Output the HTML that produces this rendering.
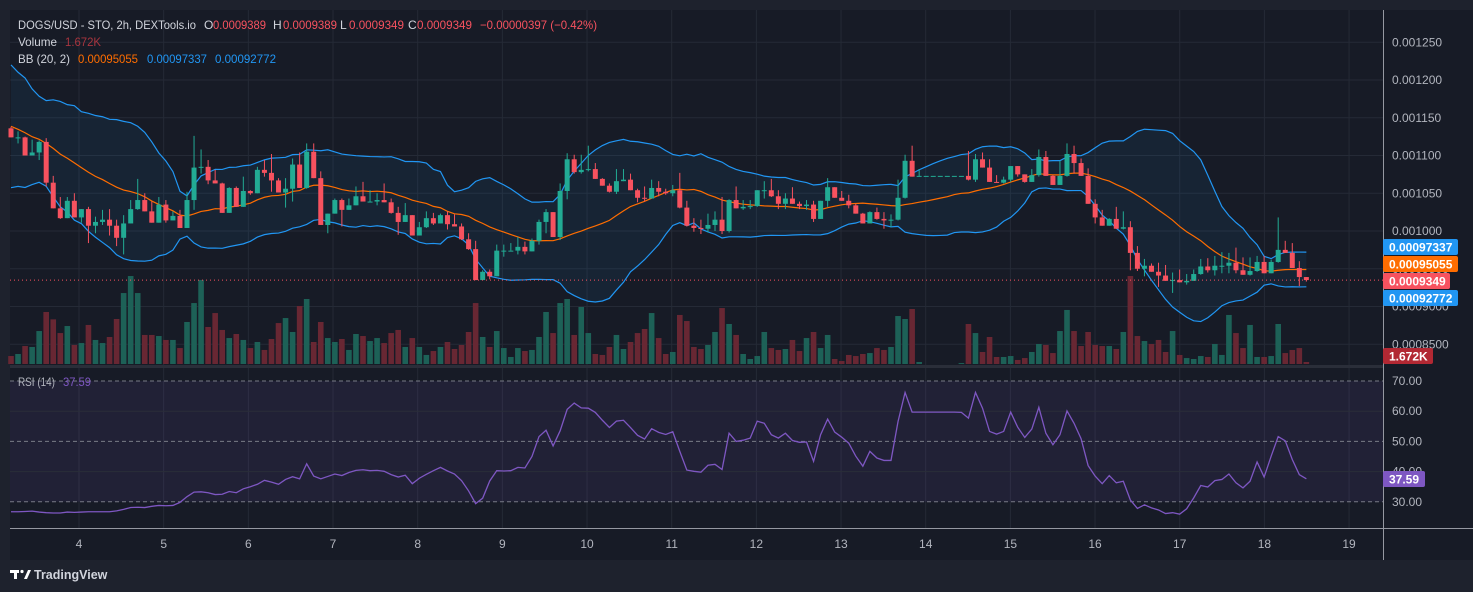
<!DOCTYPE html>
<html><head><meta charset="utf-8"><style>
html,body{margin:0;padding:0;background:#1e222d;}
svg{display:block;font-family:"Liberation Sans",sans-serif;}
</style></head><body>
<svg id="chart" width="1473" height="592" viewBox="0 0 1473 592">
<rect x="0" y="0" width="1473" height="592" fill="#1e222d"/>
<rect x="10" y="10" width="1463" height="550" fill="#171b26"/>
<g id="grid"></g>
<g id="bbfill"></g>
<g id="vol"></g>
<g id="bb"></g>
<g id="candles"></g>
<g id="rsi"></g>
<g id="axes"></g>
<g id="legend" font-size="12">
<text x="18" y="29" fill="#d1d4dc" textLength="178" lengthAdjust="spacingAndGlyphs">DOGS/USD - STO, 2h, DEXTools.io</text>
<text x="204" y="29" fill="#d1d4dc">O</text>
<text x="213" y="29" fill="#f7525f" textLength="53" lengthAdjust="spacingAndGlyphs">0.0009389</text>
<text x="273" y="29" fill="#d1d4dc">H</text>
<text x="283" y="29" fill="#f7525f" textLength="54" lengthAdjust="spacingAndGlyphs">0.0009389</text>
<text x="340" y="29" fill="#d1d4dc">L</text>
<text x="349" y="29" fill="#f7525f" textLength="55" lengthAdjust="spacingAndGlyphs">0.0009349</text>
<text x="408" y="29" fill="#d1d4dc">C</text>
<text x="417" y="29" fill="#f7525f" textLength="55" lengthAdjust="spacingAndGlyphs">0.0009349</text>
<text x="480" y="29" fill="#f7525f" textLength="117" lengthAdjust="spacingAndGlyphs">−0.00000397 (−0.42%)</text>
<text x="18" y="46" fill="#d1d4dc" textLength="39" lengthAdjust="spacingAndGlyphs">Volume</text>
<text x="65" y="46" fill="#a8353f" textLength="36" lengthAdjust="spacingAndGlyphs">1.672K</text>
<text x="18" y="63" fill="#d1d4dc" textLength="52" lengthAdjust="spacingAndGlyphs">BB (20, 2)</text>
<text x="78" y="63" fill="#ff6d00" textLength="60" lengthAdjust="spacingAndGlyphs">0.00095055</text>
<text x="147" y="63" fill="#2196f3" textLength="60" lengthAdjust="spacingAndGlyphs">0.00097337</text>
<text x="215" y="63" fill="#2196f3" textLength="61" lengthAdjust="spacingAndGlyphs">0.00092772</text>
<text x="18" y="386" fill="#b2b5be" textLength="37" lengthAdjust="spacingAndGlyphs">RSI (14)</text>
<text x="63" y="386" fill="#7e57c2" textLength="28" lengthAdjust="spacingAndGlyphs">37.59</text>
</g>
<g id="footer">
<rect x="10" y="570" width="9" height="3" fill="#fff"/>
<rect x="14" y="570" width="3" height="9" fill="#fff"/>
<circle cx="22" cy="571.5" r="1.6" fill="#fff"/>
<polygon points="24,579 28,570 31,570 27,579" fill="#fff"/>
<text x="34" y="579" font-size="12.5" font-weight="bold" fill="#d1d4dc">TradingView</text>
</g>
</svg>
<script>
const priorCloses=[1205,1190,1210,1185,1175,1160,1170,1150,1140,1155,1130,1120,1100,1110,1090,1085,1070,1095,1110];
const firstOpen=1136;
const closes=[1124,1124,1100,1104,1118,1064,1030,1017,1040,1018,
1029,1007,1012,1015,1007,991,1010,1029,1041,1026,
1011,1035,1014,1020,1004,1041,1084,1085,1067,1063,
1024,1057,1032,1053,1050,1081,1077,1067,1051,1056,
1088,1057,1105,1070,1008,1023,1041,
1028,1034,1046,1039,1039,1041,1038,1024,1012,1021,
994,1005,1017,1010,1021,1009,1006,989,976,935,
946,940,974,974,974,979,973,987,1012,1025,
992,1053,1095,1078,1081,1082,1069,1060,1052,1066,
1068,1054,1044,1043,1057,1052,1050,
1054,1031,1007,1004,1003,1008,1015,1000,1041,1030,
1032,1033,1054,1054,1046,1036,1043,1036,1033,1035,
1016,1040,1058,1044,1040,1034,1023,1010,1025,1016,
1014,1015,1044,1093,1072,1073,1073,1073,1073,1073,
1073,1073,1068,1095,1084,1065,1064,
1068,1086,1075,1065,1074,1098,1073,1061,1073,1102,
1090,1073,1036,1018,1007,1016,1003,1005,971,950,
954,946,941,934,935,932,934,943,953,948,
954,954,958,948,942,947,959,944,959,975,
971,951,939,935];
const highs=[1138,1132,1125,1121,1120,1123,1073,1045,1045,1050,
1029,1032,1019,1028,1029,1015,1021,1041,1069,1050,
1039,1045,1041,1026,1028,1052,1126,1108,1094,1081,
1064,1058,1059,1072,1054,1085,1094,1102,1070,1070,
1096,1104,1116,1116,1079,1023,1043,
1043,1043,1059,1065,1054,1050,1063,1043,1032,1037,
1021,1012,1026,1024,1023,1026,1022,1010,997,987,
948,949,982,982,984,992,986,990,1015,1029,
1025,1063,1103,1101,1101,1113,1090,1070,1063,1082,
1082,1076,1056,1059,1068,1066,1056,
1061,1077,1040,1017,1015,1023,1026,1045,1042,1059,
1041,1041,1054,1066,1069,1054,1050,1058,1039,1041,
1040,1040,1070,1058,1053,1048,1036,1024,1026,1031,
1025,1022,1068,1101,1113,1082,1073,1073,1073,1073,
1073,1073,1106,1102,1104,1095,1074,
1072,1086,1086,1074,1082,1108,1106,1074,1093,1116,
1113,1096,1083,1042,1028,1017,1032,1026,1013,980,
963,957,958,955,945,949,943,949,963,964,
967,972,971,978,965,965,967,967,962,1018,
987,984,960,939];
const lows=[1124,1116,1100,1100,1094,1059,1030,1016,1018,1018,
1011,984,997,1008,994,980,969,1010,1028,1026,
1011,1011,1011,1015,1004,1004,1028,1076,1062,1063,
1024,1024,1032,1032,1048,1050,1072,1052,1051,1031,
1039,1057,1056,1070,1008,997,1023,
1006,1028,1034,1039,1038,1034,1038,1023,995,1012,
994,994,1004,1008,1010,1002,1006,988,975,935,
935,936,940,966,974,969,969,973,982,997,
992,988,1042,1076,1076,1079,1069,1060,1051,1049,
1066,1054,1038,1039,1043,1046,1048,
1046,1030,1006,999,996,998,1000,996,998,1030,
1028,1029,1032,1043,1045,1029,1029,1036,1029,1028,
1012,1016,1032,1044,1040,1030,1023,1010,1010,1015,
1003,1005,1014,1043,1072,1072,1073,1073,1073,1073,
1073,1073,1067,1065,1084,1065,1064,
1063,1065,1072,1064,1065,1072,1073,1061,1061,1072,
1076,1073,1036,1010,1007,1007,1003,1002,948,947,
940,946,926,934,918,932,929,934,942,945,
941,944,944,944,942,941,946,944,944,958,
971,951,927,933];
const volumes=[6.7,8.4,15.1,14.3,27.7,43.7,37.5,26,31.9,16,
17.6,32.8,20.2,17.6,22.7,37.8,59.6,73.9,59.6,24.4,
24.4,23.5,20.2,20.2,13.4,35.3,51.2,70.6,31.1,42.8,
28.6,21.8,25.2,20.2,13.4,18.5,11.8,21,34.4,38.6,
26.9,48.7,54.6,18.5,35.3,21.8,18.5,
21,11.8,25.2,23.5,19.3,21.8,17.6,26,28.6,14.3,
21.8,14.3,7.6,10.9,14.3,18.5,12.6,16,26.9,51.2,
22.7,14.3,27.7,13.4,5.9,13.4,10.9,11.8,22.7,43.7,
26,51.2,54.6,24.4,47.9,26,8.4,7.6,14.3,24.4,
12.6,18.5,26,29.4,42.8,21.8,8.4,
10.1,41.2,36.1,14.3,12.6,16,26.9,47,33.6,24.4,
8.4,4.2,6.7,26.9,13.4,11.8,12.6,20.2,10.9,21.8,
26.9,13.4,24.4,4.2,2.5,7.6,6.7,8.4,9.2,13.4,
11.8,14.3,40.3,37.8,46.2,1.7,0,0,0,0,
0,0.8,33.6,26,10.1,22.7,5.9,
5.9,6.7,3.4,5,10.1,16.8,16,9.2,27.7,45.4,
27.7,15.1,26.9,16,15.1,15.1,12.6,26.9,73.9,23.5,
19.3,16.8,20.2,10.1,27.7,7.6,5,4.2,6.7,5.9,
16.8,7.6,41.2,26,13.4,32.8,5.9,5.9,6.7,33.6,
9.2,11.8,13.4,1.7];
const rsiValues=[26.7,26.7,26.8,26.9,26.6,26.4,26.3,26.3,26.6,26.5,
26.6,26.7,26.7,26.7,26.7,27,27.5,28.1,28.2,28.1,
28.5,28.8,28.7,28.8,29.8,31.7,33.2,33.3,33,32.4,
32.5,33.4,33,34.3,35,35.8,37.1,36.5,35.8,37.4,
38.3,37.6,42.6,38.5,37.6,38.4,39.2,38.7,39.7,40.4,
40.6,40.3,40.4,40.1,39,38.2,38.8,36,37.8,39.1,
40.3,41.4,40.2,39.2,37,33.6,29.4,31.2,36.9,40.3,
40.2,40.3,41.4,41.2,45,51.6,53.7,48.5,53.5,60.6,
62.7,61.1,61,59.6,57,54.6,56.7,57,54.6,52,
50.8,54.2,53,52.3,53.2,46.7,40.5,40.1,39.8,42.1,
42.4,40.7,52.7,50,50.4,51.1,56.7,56,52.2,51.1,
52.7,50.3,49.7,49.8,43.4,52.2,57.4,53.1,51.4,49.4,
45.1,41.8,46.7,44.5,43.7,43.7,56.6,66.2,59.7,59.7,
59.7,59.7,59.7,59.7,59.7,59.6,57.7,66.2,61,53.3,
52.4,53.3,59.7,54.7,51.3,54.1,61.3,52.7,48.9,52.2,
60.1,56,50.9,42,38.5,36,38.7,36.3,36.8,30.6,
27.8,29,28,27.3,26.1,26.4,25.9,27.7,31.3,35.4,
34.9,37,37.4,39.2,36.3,34.6,36.8,43.2,38.2,45.1,
51.6,50.2,44,39,37.6];
const priceTicks=[1250,1200,1150,1100,1050,1000,950,900,850];
const rsiTicks=[70,60,50,40,30];
const dayLabels=[4,5,6,7,8,9,10,11,12,13,14,15,16,17,18,19];
const lastPrice=935;

const NS="http://www.w3.org/2000/svg";
function mk(tag,attrs,parent){const e=document.createElementNS(NS,tag);for(const k in attrs)e.setAttribute(k,attrs[k]);parent.appendChild(e);return e;}
const X0=11,STEP=7.04;
function xs(i){return X0+i*STEP;}
function ys(p){return 231-(p-1000)*0.755;}
function yv(v){return 364-v/0.84;}
function yr(r){return 381+(70-r)*3.02;}
function xd(d){return 79+(d-4)*84.67;}
const PR=1383;

const grid=document.getElementById('grid');
priceTicks.forEach(t=>{const l=mk('line',{x1:10,x2:PR,y1:ys(t),y2:ys(t),stroke:'#252a36','stroke-width':1},grid);

});
dayLabels.forEach(d=>{const l=mk('line',{x1:xd(d),x2:xd(d),y1:10,y2:528,stroke:'#252a36','stroke-width':1},grid);

});

const all=priorCloses.concat(closes);
const up=[],mid=[],lo=[];
for(let i=0;i<closes.length;i++){const j=i+priorCloses.length;const w=all.slice(Math.max(0,j-19),j+1);
const m=w.reduce((a,b)=>a+b,0)/w.length;const sd=Math.sqrt(w.reduce((a,b)=>a+(b-m)*(b-m),0)/w.length);
mid.push(m);up.push(m+2*sd);lo.push(m-2*sd);}
let fp='M'+up.map((v,i)=>xs(i)+','+ys(v)).join(' L')+' L'+lo.map((v,i)=>[xs(i),ys(v)]).reverse().map(p=>p.join(',')).join(' L')+' Z';
const bf=mk('path',{d:fp,fill:'rgba(33,150,243,0.07)'},document.getElementById('bbfill'));


const bbg=document.getElementById('bb');
[[up,'#2196f3','bb-upper'],[lo,'#2196f3','bb-lower'],[mid,'#ff6d00','bb-basis']].forEach(([arr,c,n])=>{
const p=mk('polyline',{points:arr.map((v,i)=>xs(i)+','+ys(v)).join(' '),fill:'none',stroke:c,'stroke-width':1.2},bbg);

});

const vg=document.getElementById('vol'),cg=document.getElementById('candles');
closes.forEach((c,i)=>{const o=i===0?firstOpen:closes[i-1];const g=c>=o;
const x=xs(i);
const vh=Math.max(0,364-yv(volumes[i]));
if(vh>0){const vb=mk('rect',{x:x-2.8,y:364-vh,width:5.6,height:vh,fill:g?'#1d6157':'#682733'},vg);

}
const col=g?'#22ab94':'#f7525f';
const h=Math.max(highs[i],o,c),l=Math.min(lows[i],o,c);
const w=mk('line',{x1:x,x2:x,y1:ys(h),y2:ys(l),stroke:col,'stroke-width':1},cg);


const top=ys(Math.max(o,c)),bh=Math.max(1,ys(Math.min(o,c))-top);
const b=mk('rect',{x:x-2.5,y:top,width:5,height:bh,fill:col},cg);

});
const lp=mk('line',{x1:10,x2:PR,y1:ys(lastPrice),y2:ys(lastPrice),stroke:'#f7525f','stroke-width':1,'stroke-dasharray':'1 3'},cg);



const rg=document.getElementById('rsi');
const sep=mk('rect',{x:10,y:365,width:1463,height:3,fill:'#2a2e39'},rg);


const rf=mk('rect',{x:10,y:yr(70),width:PR-10,height:yr(30)-yr(70),fill:'rgba(126,87,194,0.1)'},rg);


rsiTicks.forEach(t=>{const dash=(t===70||t===50||t===30);
const l=mk('line',{x1:10,x2:PR,y1:yr(t),y2:yr(t),stroke:dash?'#787b86':'#2a2e39','stroke-width':1,'stroke-dasharray':dash?'4 3':'none'},rg);

});
const rl=mk('polyline',{points:rsiValues.map((v,i)=>xs(i)+','+yr(v)).join(' '),fill:'none',stroke:'#7e57c2','stroke-width':1.3},rg);



const ax=document.getElementById('axes');
const pa=mk('rect',{x:PR,y:10,width:90,height:518,fill:'#171b26'},ax);


const vl=mk('line',{x1:PR+0.5,x2:PR+0.5,y1:10,y2:560,stroke:'#9598a1','stroke-width':1},ax);


const hl=mk('line',{x1:10,x2:1473,y1:528.5,y2:528.5,stroke:'#9598a1','stroke-width':1},ax);


priceTicks.forEach(t=>{const p=t/1e6;const s=p>=0.001?p.toFixed(6):p.toFixed(7);
const tx=mk('text',{x:1392,y:ys(t)+4,'font-size':12,fill:'#b2b5be'},ax);tx.textContent=s;

});
rsiTicks.forEach(t=>{const tx=mk('text',{x:1392,y:yr(t)+4,'font-size':12,fill:'#b2b5be'},ax);tx.textContent=t.toFixed(2);

});
dayLabels.forEach(d=>{const tx=mk('text',{x:xd(d),y:548,'font-size':12,fill:'#b2b5be','text-anchor':'middle'},ax);tx.textContent=d;

});
function badge(y,w,bg,txt,name){const g=mk('g',{},ax);


mk('rect',{x:PR,y:y-8,width:w,height:16,rx:2,fill:bg},g);
const t=mk('text',{x:PR+6,y:y+4.5,'font-size':12,'font-weight':'bold',fill:'#fff'},g);t.textContent=txt;}
badge(247,75,'#2196f3','0.00097337','bb-upper-badge');
badge(264,75,'#ff6d00','0.00095055','bb-basis-badge');
badge(281,67,'#f7525f','0.0009349','last-price-badge');
badge(298,75,'#2196f3','0.00092772','bb-lower-badge');
badge(356,50,'#b22833','1.672K','volume-badge');
badge(479,42,'#7e57c2','37.59','rsi-badge');
</script>
</body></html>
